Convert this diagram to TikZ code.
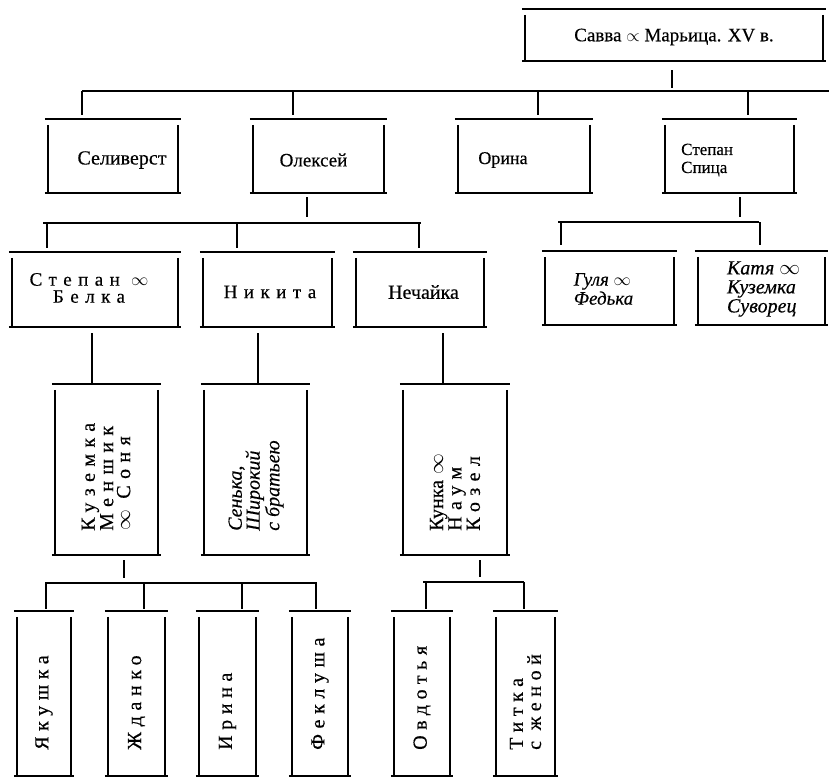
\documentclass[tikz,border=0pt]{standalone}
\usepackage{fontspec}
\setmainfont{Liberation Serif}[FakeBold=0.4]
\newfontfamily\spc{Liberation Serif}[LetterSpace=34,FakeBold=0.4]
\newfontfamily\spcc{Liberation Serif}[LetterSpace=32,FakeBold=0.4]
\newfontfamily\spcb{Liberation Serif}[LetterSpace=28,FakeBold=0.4]
\newcommand\fs[2]{\fontsize{#1}{#2}\selectfont}
\newcommand\boxlines[1]{%
  \draw[ln] (#1.north west) -- (#1.north east);
  \draw[ln] (#1.south west) -- (#1.south east);
  \draw[ln] ([xshift=3pt,yshift=-6pt]#1.north west) -- ([xshift=3pt]#1.south west);
  \draw[ln] ([xshift=-3pt,yshift=-6pt]#1.north east) -- ([xshift=-3pt]#1.south east);}
\begin{document}
\begin{tikzpicture}[x=1pt,y=-1pt,
  ln/.style={line width=1.5pt},
  bx/.style={inner sep=0pt, draw=none},
  tx/.style={inner sep=0pt, align=left},
  tc/.style={inner sep=0pt, align=center},
  rt/.style={inner sep=0pt, align=left, rotate=90, anchor=west}]
\useasboundingbox (0,0) rectangle (829,778);

% ---------- level 0
\node[bx, minimum width=304pt, minimum height=52pt] (savva) at (674,35) {};
\boxlines{savva}
\node[tc, font=\fs{19}{24}] (savva-t) at (674,37) {Савва $\propto$ Марьица. XV в.};
\coordinate (c0) at (672,91);
\coordinate (bus0l) at (82,91);
\coordinate (bus0r) at (829,91);
\draw[ln, shorten <=9pt, shorten >=3pt] (savva.south -| c0) -- (c0);
\draw[ln] (bus0l) -- (bus0r);

% ---------- level 1
\node[bx, minimum width=136pt, minimum height=74pt] (sel)    at (113,156) {};
\node[bx, minimum width=137pt, minimum height=74pt] (olek)   at (318.5,156) {};
\node[bx, minimum width=138pt, minimum height=74pt] (orina)  at (524,156) {};
\node[bx, minimum width=135pt, minimum height=74pt] (stepsp) at (729.5,156) {};
\boxlines{sel}\boxlines{olek}\boxlines{orina}\boxlines{stepsp}
\node[tc, font=\fs{20}{22}] (sel-t)   at (122,160) {Селиверст};
\node[tc, font=\fs{19}{22}] (olek-t)  at (313.5,160) {Олексей};
\node[tc, font=\fs{18}{20}] (orina-t) at (503,160) {Орина};
\node[tx, font=\fs{17}{18}, anchor=west] (stepsp-t) at (681,160) {Степан\\Спица};
\coordinate (k1a) at (82,91);
\coordinate (k1b) at (293,91);
\coordinate (k1c) at (538,91);
\coordinate (k1d) at (748,91);
\draw[ln, shorten >=4pt] (k1a) -- (k1a |- sel.north);
\draw[ln, shorten >=4pt] (k1b) -- (k1b |- olek.north);
\draw[ln, shorten >=4pt] (k1c) -- (k1c |- orina.north);
\draw[ln, shorten >=4pt] (k1d) -- (k1d |- stepsp.north);

% ---------- level 2 (Olexey's children)
\coordinate (c1) at (307,223);
\coordinate (bus1l) at (43,223);
\coordinate (bus1r) at (421,223);
\draw[ln, shorten <=4pt, shorten >=6pt] (olek.south -| c1) -- (c1);
\draw[ln] (bus1l) -- (bus1r);
\node[bx, minimum width=172pt, minimum height=75pt] (stbel)  at (95,289.5) {};
\node[bx, minimum width=135pt, minimum height=75pt] (nikita) at (267.5,289.5) {};
\node[bx, minimum width=134pt, minimum height=75pt] (nech)   at (420,289.5) {};
\boxlines{stbel}\boxlines{nikita}\boxlines{nech}
\node[tc, font=\spc\fs{19}{17}] (stbel-t) at (89,288) {Степан $\infty$\\Белка};
\node[tc, font=\spc\fs{19}{19}] (nikita-t) at (270,292) {Никита};
\node[tc, font=\fs{20}{22}] (nech-t) at (423.5,292) {Нечайка};
\coordinate (k2a) at (47,223);
\coordinate (k2b) at (237,223);
\coordinate (k2c) at (419,223);
\draw[ln, shorten >=4pt] (k2a) -- (k2a |- stbel.north);
\draw[ln, shorten >=4pt] (k2b) -- (k2b |- nikita.north);
\draw[ln, shorten >=4pt] (k2c) -- (k2c |- nech.north);

% ---------- level 2 (Stepan Spitsa's children)
\coordinate (c2) at (740,222);
\coordinate (bus2l) at (558,222);
\coordinate (bus2r) at (759,222);
\draw[ln, shorten <=4pt, shorten >=5pt] (stepsp.south -| c2) -- (c2);
\draw[ln] (bus2l) -- (bus2r);
\node[bx, minimum width=135pt, minimum height=74pt] (gulya) at (609.5,288) {};
\node[bx, minimum width=133pt, minimum height=74pt] (katya) at (761.5,288) {};
\boxlines{gulya}\boxlines{katya}
\node[tx, font=\itshape\fs{19}{19}] (gulya-t) at (603.5,289) {Гуля $\infty$\\Федька};
\node[tx, font=\itshape\fs{20}{19}] (katya-t) at (763.5,289) {Катя $\infty$\\Куземка\\Суворец};
\coordinate (k2d) at (561,222);
\coordinate (k2e) at (760,222);
\draw[ln, shorten >=6pt] (k2d) -- (k2d |- gulya.north);
\draw[ln, shorten >=6pt] (k2e) -- (k2e |- katya.north);

% ---------- level 3
\node[bx, minimum width=109pt, minimum height=171pt] (kuz)   at (106.5,469.5) {};
\node[bx, minimum width=109pt, minimum height=171pt] (senka) at (255.5,469.5) {};
\node[bx, minimum width=110pt, minimum height=171pt] (kunka) at (455,469.5) {};
\boxlines{kuz}\boxlines{senka}\boxlines{kunka}
\coordinate (k3a) at (92,0);
\coordinate (k3b) at (258,0);
\coordinate (k3c) at (443,0);
\draw[ln, shorten <=6pt] (stbel.south -| k3a) -- (kuz.north -| k3a);
\draw[ln, shorten <=6pt] (nikita.south -| k3b) -- (senka.north -| k3b);
\draw[ln, shorten <=6pt] (nech.south -| k3c) -- (kunka.north -| k3c);
\node[rt, font=\spcc\fs{20}{17}] (kuz-t) at (106,531) {Куземка\\Меншик\\$\infty$ Соня};
\node[rt, font=\itshape\fs{20}{18}] (senka-t) at (256,531) {Сенька,\\Широкий\\с братьею};
\node[rt, font=\fs{20}{17}] (kunka-t) at (455,531) {Кунка $\infty$\\{\spcc Наум}\\{\spcc Козел}};

% ---------- level 4 (Kuzemka's children)
\coordinate (c3) at (124,583);
\coordinate (bus3l) at (45,583);
\coordinate (bus3r) at (317,583);
\draw[ln, shorten <=5pt, shorten >=5pt] (kuz.south -| c3) -- (c3);
\draw[ln] (bus3l) -- (bus3r);
\node[bx, minimum width=60pt, minimum height=165pt] (yak)   at (44,693.5) {};
\node[bx, minimum width=63pt, minimum height=165pt] (zhd)   at (136.5,693.5) {};
\node[bx, minimum width=63pt, minimum height=165pt] (irina) at (227.5,693.5) {};
\node[bx, minimum width=62pt, minimum height=165pt] (fekl)  at (320,693.5) {};
\boxlines{yak}\boxlines{zhd}\boxlines{irina}\boxlines{fekl}
\coordinate (k4a) at (46,583);
\coordinate (k4b) at (144,583);
\coordinate (k4c) at (242,583);
\coordinate (k4d) at (316,583);
\draw[ln, shorten >=2pt] (k4a) -- (k4a |- yak.north);
\draw[ln, shorten >=2pt] (k4b) -- (k4b |- zhd.north);
\draw[ln, shorten >=2pt] (k4c) -- (k4c |- irina.north);
\draw[ln, shorten >=2pt] (k4d) -- (k4d |- fekl.north);
\node[rt, font=\spcb\fs{20}{17}] (yak-t)   at (44,750)    {Якушка};
\node[rt, font=\spcb\fs{20}{17}] (zhd-t)   at (136.5,750) {Жданко};
\node[rt, font=\spcb\fs{20}{17}] (irina-t) at (227.5,750) {Ирина};
\node[rt, font=\spcb\fs{20}{17}] (fekl-t)  at (320,750)   {Феклуша};

% ---------- level 4 (Kunka's children)
\coordinate (c4) at (480,582);
\coordinate (bus4l) at (423,582);
\coordinate (bus4r) at (524,582);
\draw[ln, shorten <=5pt, shorten >=5pt] (kunka.south -| c4) -- (c4);
\draw[ln] (bus4l) -- (bus4r);
\node[bx, minimum width=62pt, minimum height=165pt] (ovd)   at (422,693.5) {};
\node[bx, minimum width=65pt, minimum height=165pt] (titka) at (525.5,693.5) {};
\boxlines{ovd}\boxlines{titka}
\coordinate (k4e) at (426,582);
\coordinate (k4f) at (524,582);
\draw[ln, shorten >=2pt] (k4e) -- (k4e |- ovd.north);
\draw[ln, shorten >=2pt] (k4f) -- (k4f |- titka.north);
\node[rt, font=\spcb\fs{20}{17}] (ovd-t)   at (422,750)   {Овдотья};
\node[rt, font=\spcb\fs{20}{18}] (titka-t) at (525.5,750) {Титка\\с женой};
\end{tikzpicture}
\end{document}
